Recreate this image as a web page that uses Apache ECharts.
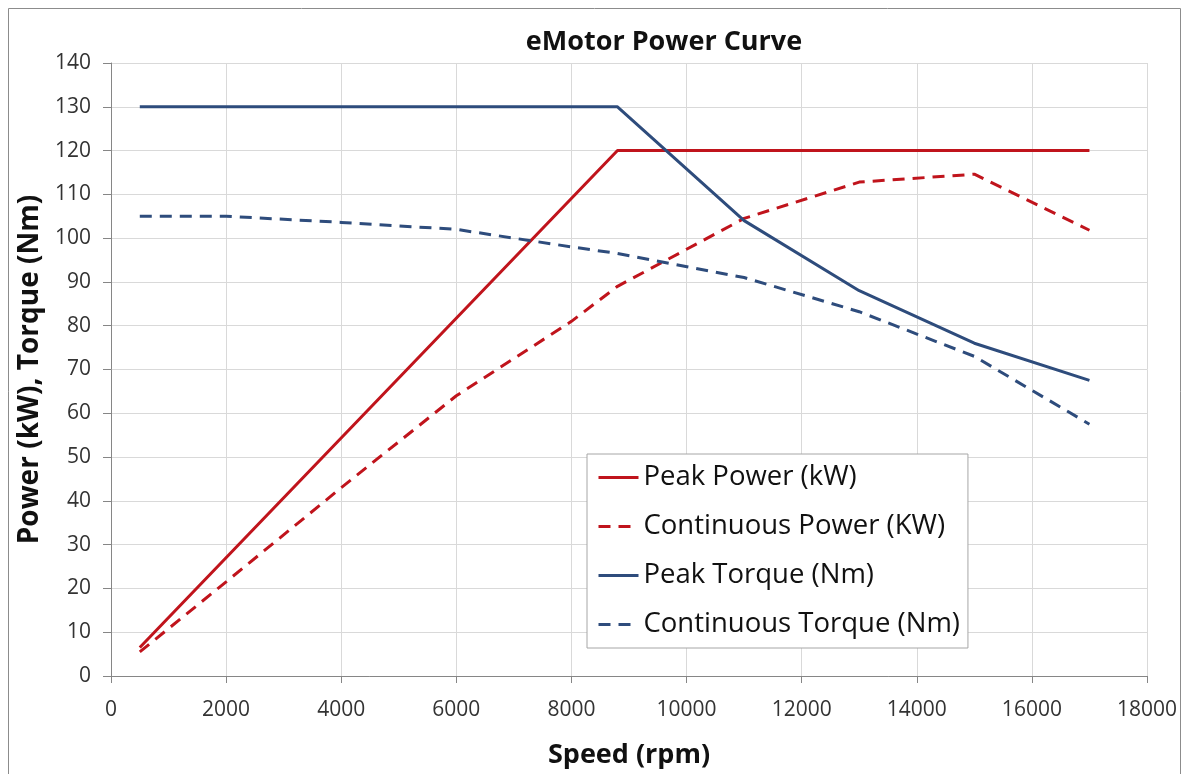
<!DOCTYPE html>
<html>
<head>
<meta charset="utf-8">
<script src="https://cdn.jsdelivr.net/npm/echarts@6/dist/echarts.min.js"></script>
<style>
  html, body { margin: 0; padding: 0; background: #ffffff; }
  #chart { width: 1184px; height: 774px; }
</style>
</head>
<body>
<div id="chart"></div>
<script>
// ---- Data ----
const chartTitle = 'eMotor Power Curve';
const xAxisTitle = 'Speed (rpm)';
const yAxisTitle = 'Power (kW), Torque (Nm)';
const seriesNames = ['Peak Power (kW)', 'Continuous Power (KW)', 'Peak Torque (Nm)', 'Continuous Torque (Nm)'];

const speedPeak = [500, 8800, 11000, 13000, 15000, 17000];
const peakPower = [6.5, 120, 120, 120, 120, 120];
const peakTorque = [130, 130, 104, 88, 76, 67.5];

const speedCont = [500, 2000, 4000, 6000, 8000, 8800, 11000, 13000, 15000, 17000];
const contPower = [5.5, 21.5, 43, 64, 81, 89, 104.5, 112.8, 114.6, 101.8];
const contTorque = [105, 105, 103.6, 102, 98, 96.5, 91, 83.2, 73, 57.5];

const xMin = 0, xMax = 18000, xStep = 2000;
const yMin = 0, yMax = 140, yStep = 10;

// ---- Build ----
const pairs = (xs, ys) => xs.map((x, i) => [x, ys[i]]);
const RED = '#C0141C';
const BLUE = '#2E4C7C';
const FONT = '"Open Sans", "Noto Sans", sans-serif';

function lineSeries(name, data, color, dashed) {
  return {
    name: name,
    type: 'line',
    data: data,
    symbol: 'none',
    smooth: false,
    silent: true,
    z: 3,
    lineStyle: { color: color, width: 3, type: dashed ? [12, 8] : 'solid', cap: 'butt' },
    itemStyle: { color: color }
  };
}

const chart = echarts.init(document.getElementById('chart'), null, { renderer: 'canvas' });
chart.setOption({
  animation: false,
  backgroundColor: '#ffffff',
  textStyle: { fontFamily: FONT },
  graphic: [{
    type: 'rect',
    shape: { x: 8.5, y: 8.5, width: 1172, height: 800 },
    style: { fill: 'none', stroke: '#8c8c8c', lineWidth: 1 },
    z: -10
  }],
  title: {
    text: chartTitle,
    left: 659,
    top: 24,
    textAlign: 'center',
    textStyle: { fontFamily: FONT, fontSize: 27, fontWeight: 'bold', color: '#111' }
  },
  grid: { left: 111, right: 37, top: 63, bottom: 97, containLabel: false },
  xAxis: {
    type: 'value',
    min: xMin, max: xMax, interval: xStep,
    name: xAxisTitle,
    nameLocation: 'middle',
    nameGap: 66,
    nameTextStyle: { fontFamily: FONT, fontSize: 27, fontWeight: 'bold', color: '#111' },
    axisLine: { show: true, onZero: false, lineStyle: { color: '#868686', width: 1 } },
    axisTick: { show: true, length: 7, lineStyle: { color: '#868686' } },
    axisLabel: { fontFamily: FONT, fontSize: 21, color: '#333', margin: 24, formatter: v => String(v) },
    splitLine: { show: true, lineStyle: { color: '#d9d9d9', width: 1 } }
  },
  yAxis: {
    type: 'value',
    min: yMin, max: yMax, interval: yStep,
    name: yAxisTitle,
    nameLocation: 'middle',
    nameGap: 62,
    nameRotate: 90,
    nameTextStyle: { fontFamily: FONT, fontSize: 28, fontWeight: 'bold', color: '#111' },
    axisLine: { show: true, lineStyle: { color: '#868686', width: 1 } },
    axisTick: { show: true, length: 8, lineStyle: { color: '#868686' } },
    axisLabel: { fontFamily: FONT, fontSize: 21, color: '#333', margin: 20, formatter: v => String(v) },
    splitLine: { show: true, lineStyle: { color: '#d9d9d9', width: 1 } }
  },
  legend: {
    orient: 'vertical',
    left: 587,
    top: 454,
    padding: [8, 8, 8, 10],
    itemGap: 18,
    itemWidth: 40,
    itemHeight: 31,
    backgroundColor: '#ffffff',
    borderColor: '#a6a6a6',
    borderWidth: 1,
    borderRadius: 0,
    selectedMode: false,
    itemStyle: { opacity: 0, borderWidth: 0 },
    lineStyle: { width: 3 },
    textStyle: { fontFamily: FONT, fontSize: 27.5, color: '#111', lineHeight: 31 },
    data: seriesNames
  },
  series: [
    lineSeries(seriesNames[0], pairs(speedPeak, peakPower), RED, false),
    lineSeries(seriesNames[1], pairs(speedCont, contPower), RED, true),
    lineSeries(seriesNames[2], pairs(speedPeak, peakTorque), BLUE, false),
    lineSeries(seriesNames[3], pairs(speedCont, contTorque), BLUE, true)
  ]
});
</script>
</body>
</html>
